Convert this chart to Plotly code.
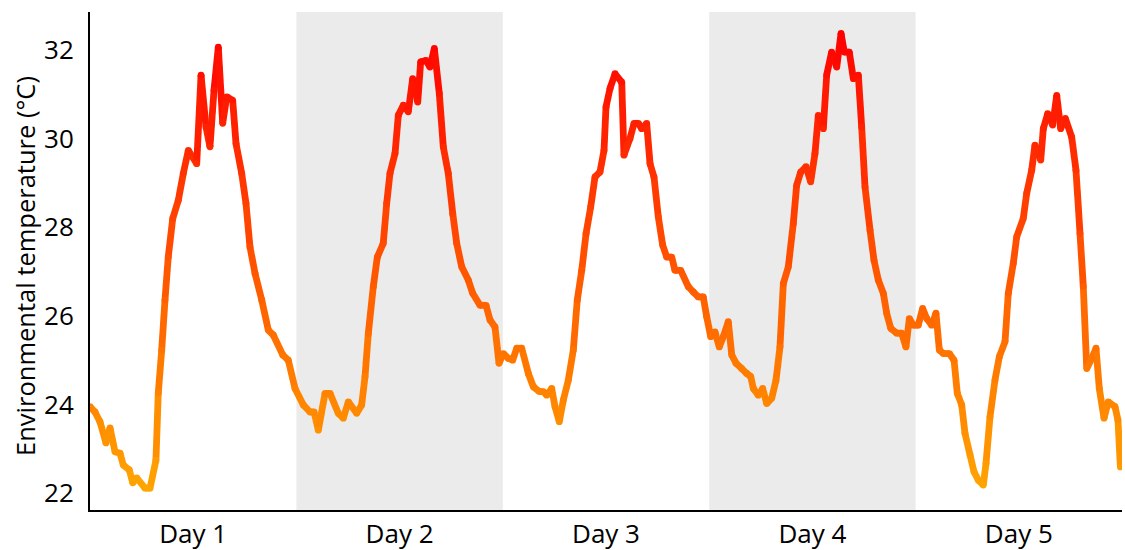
import plotly.graph_objects as go

# Time (hours since start) and environmental temperature (°C)
hours = [
    0.0, 0.58, 1.16, 1.86, 2.33, 2.91, 3.49, 3.87, 4.57, 4.97, 5.43, 6.40, 6.98, 7.67, 7.94,
    8.34, 8.72, 9.10, 9.62, 10.27, 10.85, 11.43, 12.41, 12.91, 13.49, 13.95, 14.42, 14.92,
    15.43, 15.90, 16.59, 16.98, 17.64, 18.14, 18.60, 19.19, 19.97, 20.73, 21.31, 22.41,
    23.06, 23.84, 24.80, 25.58, 26.05, 26.55, 27.33, 27.91, 28.87, 29.45, 30.04, 31.01,
    31.59, 31.98, 32.36, 32.94, 33.41, 34.10, 34.50, 34.88, 35.47, 35.85, 36.43, 37.01,
    37.52, 38.11, 38.45, 39.07, 39.53, 40.04, 40.62, 41.08, 41.66, 42.18, 42.64, 43.22,
    43.99, 44.50, 45.35, 46.05, 46.51, 47.09, 47.56, 48.06, 48.64, 49.15, 49.62, 50.20,
    50.97, 51.55, 52.25, 52.71, 53.11, 53.69, 54.07, 54.57, 55.04, 55.62, 56.20, 56.66,
    57.18, 57.68, 58.22, 58.72, 59.30, 59.77, 60.00, 60.47, 61.05, 61.83, 62.09, 62.79,
    63.26, 63.76, 64.15, 64.73, 65.12, 65.58, 66.08, 66.59, 67.06, 67.64, 68.02, 68.69,
    69.57, 70.15, 70.73, 71.31, 71.71, 72.18, 72.67, 73.17, 73.64, 74.22, 74.62, 75.12,
    75.78, 76.36, 76.83, 77.13, 77.71, 78.22, 78.69, 79.27, 79.77, 80.23, 80.62, 81.20,
    81.78, 82.17, 82.64, 83.26, 83.80, 84.30, 84.69, 85.27, 85.66, 86.24, 86.83, 87.33,
    87.71, 88.29, 88.76, 89.34, 89.73, 90.12, 90.70, 91.16, 91.66, 92.25, 92.64, 93.11,
    93.80, 94.38, 94.88, 95.27, 95.73, 96.31, 96.82, 97.29, 97.87, 98.37, 98.76, 99.22,
    99.92, 100.47, 100.85, 101.36, 101.74, 102.33, 102.79, 103.29, 103.87, 104.19, 104.65,
    105.23, 105.74, 106.40, 106.78, 107.36, 107.76, 108.52, 108.92, 109.50, 109.88, 110.55,
    110.85, 111.36, 111.94, 112.41, 112.87, 113.41, 114.15, 114.65, 115.12, 115.50, 115.90,
    116.48, 116.98, 117.36, 117.91, 118.40, 119.19, 119.53, 119.81,
]
temperature = [
    23.95, 23.83, 23.61, 23.13, 23.47, 22.93, 22.90, 22.63, 22.52, 22.23, 22.34, 22.11, 22.11, 22.74, 24.26,
    25.23, 26.36, 27.33, 28.20, 28.61, 29.22, 29.74, 29.44, 31.44, 30.27, 29.82, 31.10, 32.07,
    30.35, 30.95, 30.87, 29.89, 29.22, 28.54, 27.56, 26.96, 26.36, 25.68, 25.57, 25.12,
    25.00, 24.36, 23.99, 23.83, 23.83, 23.42, 24.25, 24.25, 23.80, 23.69, 24.06, 23.80,
    23.99, 24.63, 25.60, 26.66, 27.33, 27.64, 28.54, 29.22, 29.67, 30.53, 30.76, 30.61,
    31.36, 30.83, 31.74, 31.77, 31.62, 32.04, 31.02, 29.82, 29.22, 28.31, 27.64, 27.11,
    26.81, 26.51, 26.24, 26.24, 25.91, 25.75, 24.93, 25.15, 25.04, 25.00, 25.27, 25.27,
    24.70, 24.40, 24.29, 24.29, 24.21, 24.36, 23.95, 23.61, 24.10, 24.55, 25.23, 26.36,
    27.03, 27.86, 28.46, 29.14, 29.25, 29.74, 30.72, 31.14, 31.47, 31.28, 29.63, 30.01,
    30.35, 30.35, 30.23, 30.35, 29.44, 29.14, 28.24, 27.60, 27.33, 27.33, 27.03, 27.03,
    26.66, 26.54, 26.43, 26.43, 25.98, 25.53, 25.64, 25.30, 25.53, 25.87, 25.12, 24.93,
    24.81, 24.70, 24.63, 24.36, 24.21, 24.36, 24.02, 24.14, 24.55, 25.30, 26.73, 27.11,
    28.09, 28.95, 29.25, 29.37, 29.03, 29.67, 30.53, 30.23, 31.44, 31.96, 31.62, 32.38,
    31.96, 31.96, 31.36, 31.44, 30.27, 28.91, 27.94, 27.26, 26.81, 26.51, 26.06, 25.72,
    25.61, 25.61, 25.30, 25.94, 25.79, 25.79, 26.17, 25.94, 25.79, 26.06, 25.23, 25.15,
    25.15, 25.00, 24.25, 23.99, 23.35, 22.86, 22.48, 22.29, 22.18, 22.67, 23.72,
    24.55, 25.08, 25.42, 26.51, 27.19, 27.79, 28.20, 28.77, 29.29, 29.86, 29.52,
    30.23, 30.57, 30.31, 30.98, 30.23, 30.46, 30.04, 29.29, 27.86, 26.66, 24.81,
    25.04, 25.27, 24.36, 23.69, 24.06, 23.95, 23.65, 22.59,
]

day_labels = ["Day 1", "Day 2", "Day 3", "Day 4", "Day 5"]
day_centers = [12, 36, 60, 84, 108]
shaded_days = [(24, 48), (72, 96)]
y_ticks = [22, 24, 26, 28, 30, 32]
y_title = "Environmental temperature (°C)"

LOW = (255, 165, 0)   # orange
HIGH = (255, 0, 0)    # red
tmin, tmax = min(temperature), max(temperature)


def temp_color(t):
    f = (t - tmin) / (tmax - tmin)
    f = max(0.0, min(1.0, f))
    r = LOW[0] + (HIGH[0] - LOW[0]) * f
    g = LOW[1] + (HIGH[1] - LOW[1]) * f
    b = LOW[2] + (HIGH[2] - LOW[2]) * f
    return f"rgb({int(round(r))},{int(round(g))},{int(round(b))})"


LW = 6.8
fig = go.Figure()
for i in range(len(hours) - 1):
    fig.add_trace(go.Scatter(
        x=[hours[i], hours[i + 1]], y=[temperature[i], temperature[i + 1]],
        mode="lines", line=dict(color=temp_color((temperature[i] + temperature[i + 1]) / 2), width=LW),
        showlegend=False, hoverinfo="skip",
    ))
fig.add_trace(go.Scatter(
    x=hours, y=temperature, mode="markers",
    marker=dict(size=LW, color=[temp_color(t) for t in temperature], line=dict(width=0)),
    showlegend=False, hoverinfo="skip",
))

for x0, x1 in shaded_days:
    fig.add_shape(type="rect", xref="x", yref="paper", x0=x0, x1=x1, y0=0, y1=1,
                  fillcolor="#EBEBEB", line=dict(width=0), layer="below")

FONT = "Open Sans"
fig.update_layout(
    width=1125, height=550,
    margin=dict(l=90, r=3, t=12, b=40, autoexpand=False),
    paper_bgcolor="white", plot_bgcolor="white",
    font=dict(family=FONT, size=26, color="black"),
)
fig.update_xaxes(
    range=[0, 120], tickvals=day_centers, ticktext=day_labels, automargin=False,
    showgrid=False, zeroline=False, showline=True, linecolor="black", linewidth=2,
    ticks="", ticklabelstandoff=0, tickfont=dict(size=26),
)
fig.update_yaxes(
    range=[21.616, 32.865], tickvals=y_ticks, automargin=False,
    showgrid=False, zeroline=False, showline=True, linecolor="black", linewidth=2,
    ticks="", ticklabelstandoff=9, tickfont=dict(size=26),
)
fig.add_annotation(
    text=y_title, textangle=-90, xref="paper", yref="paper",
    x=(25 - 90) / 1032, y=0.49, xanchor="center", yanchor="middle",
    showarrow=False, font=dict(size=25.5),
)

fig.write_html("out.html")
